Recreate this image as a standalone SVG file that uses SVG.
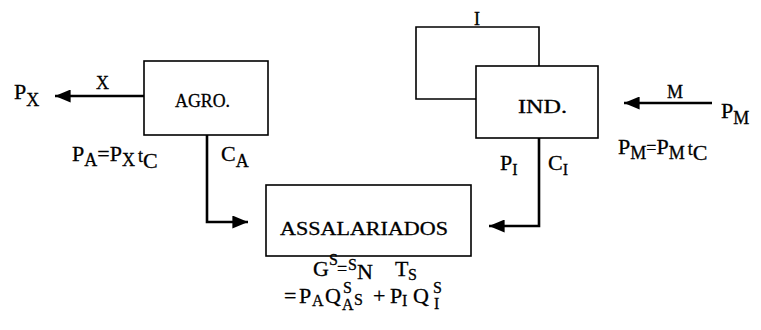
<svg xmlns="http://www.w3.org/2000/svg" width="761" height="330" viewBox="0 0 761 330">
<style>
.box{fill:#fff;stroke:#000;stroke-width:1.6}
.ln{fill:none;stroke:#000;stroke-width:2.6}
.lp{fill:none;stroke:#000;stroke-width:1.6}
text{font-family:"Liberation Serif","DejaVu Serif",serif;fill:#000;stroke:#000;stroke-width:0.3}
.b{font-size:22px}
.m{font-size:18px}
.f{font-size:22px}
.s{font-size:16px}
.lab{font-size:19px}
</style>
<defs>
<marker id="ah" markerWidth="6" markerHeight="5" refX="6" refY="2.5" orient="auto" markerUnits="strokeWidth"><path d="M0,0 L6,2.5 L0,5 Z" fill="#000"/></marker>
</defs>
<rect width="761" height="330" fill="#fff"/>
<g id="connectors">
<line class="ln" x1="144" y1="96" x2="55" y2="96" marker-end="url(#ah)"/>
<line class="ln" x1="712" y1="103" x2="624" y2="103" marker-end="url(#ah)"/>
<polyline class="ln" points="207,135 207,222 248,222" marker-end="url(#ah)"/>
<polyline class="ln" points="539,138 539,226 489,226" marker-end="url(#ah)"/>
<path class="lp" d="M539,66 V27 H416 V99 H476"/>
</g>
<g id="agro">
<rect class="box" x="144" y="61" width="124" height="74"/>
<text class="lab" x="175" y="107" textLength="55" lengthAdjust="spacingAndGlyphs">AGRO.</text>
</g>
<g id="ind">
<rect class="box" x="476" y="66" width="122" height="72"/>
<text class="lab" x="518" y="113" textLength="49" lengthAdjust="spacingAndGlyphs">IND.</text>
</g>
<g id="assalariados">
<rect class="box" x="266" y="185" width="205" height="71"/>
<text class="lab" x="280" y="235" textLength="168" lengthAdjust="spacingAndGlyphs">ASSALARIADOS</text>
</g>
<g id="labels">
<text class="b" x="14" y="99">P<tspan class="m" dy="7">X</tspan></text>
<text class="m" x="96" y="89">X</text>
<text class="b" x="72" y="161">P<tspan class="m" dy="5">A</tspan><tspan dy="-5">=P</tspan><tspan class="m" dy="5">X</tspan><tspan class="m" dx="3" dy="-4">t</tspan><tspan dy="6">C</tspan></text>
<text class="b" x="221" y="161">C<tspan class="m" dy="6">A</tspan></text>
<text class="m" x="477" y="25" text-anchor="middle">I</text>
<text class="m" x="667" y="98">M</text>
<text class="b" x="721" y="118">P<tspan class="m" dy="6">M</tspan></text>
<text class="b" x="618" y="154">P<tspan class="m" dy="5">M</tspan><tspan dy="-5" font-size="18px">=</tspan><tspan>P</tspan><tspan class="m" dy="5">M</tspan><tspan class="m" dx="3" dy="-4">t</tspan><tspan dy="5">C</tspan></text>
<text class="b" x="500" y="170">P<tspan class="s" dy="5">I</tspan></text>
<text class="b" x="548" y="170">C<tspan class="s" dy="5">I</tspan></text>
</g>
<g id="formula">
<text class="f" x="313" y="276">G</text>
<text class="s" x="329" y="265">S</text>
<text class="m" x="337" y="275">=</text>
<text class="s" x="348" y="270">S</text>
<text class="f" x="357" y="279">N</text>
<text class="f" x="395" y="276">T</text>
<text class="s" x="408" y="280">S</text>
<text class="f" x="284" y="303">=</text>
<text class="f" x="299" y="303">P</text>
<text class="s" x="312" y="306">A</text>
<text class="f" x="325" y="303">Q</text>
<text class="s" x="343" y="293">S</text>
<text class="s" x="342" y="310">A</text>
<text class="s" x="354" y="305">S</text>
<text class="f" x="373" y="303">+</text>
<text class="f" x="390" y="303">P</text>
<text class="s" x="402" y="306">I</text>
<text class="f" x="413" y="303">Q</text>
<text class="s" x="433" y="293">S</text>
<text class="s" x="434" y="309">I</text>
</g>
</svg>
